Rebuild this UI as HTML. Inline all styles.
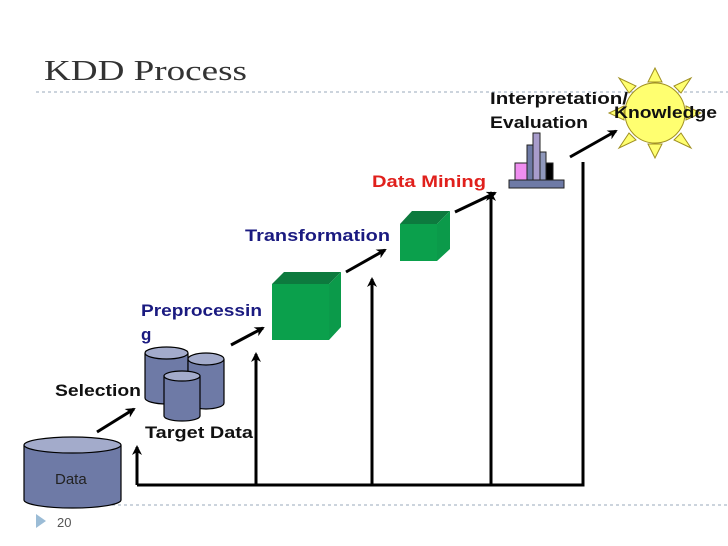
<!DOCTYPE html>
<html><head><style>body{margin:0;background:#fff}svg{display:block}</style></head><body>
<svg width="728" height="546" viewBox="0 0 728 546" xmlns="http://www.w3.org/2000/svg" font-family="Liberation Sans, sans-serif">
<defs><marker id="a" markerWidth="10" markerHeight="10" refX="8" refY="5" orient="auto" markerUnits="userSpaceOnUse"><path d="M0,0 L10,5 L0,10 L3,5z" fill="#000"/></marker></defs>
<text x="44" y="80" font-family="Liberation Serif, serif" font-size="29" fill="#333" textLength="203" lengthAdjust="spacingAndGlyphs">KDD Process</text>
<line x1="36" y1="92" x2="728" y2="92" stroke="#9ab" stroke-dasharray="3,3"/>
<line x1="100" y1="505" x2="728" y2="505" stroke="#9ab" stroke-dasharray="3,3"/>
<path d="M36,514 L46,521 L36,528z" fill="#9bbcd6"/>
<text x="57" y="527" font-size="13" fill="#555">20</text>
<g stroke="#000" stroke-width="3" fill="none">
<path d="M137,485 H583 V162"/>
<line x1="137" y1="485" x2="137" y2="447" marker-end="url(#a)"/>
<line x1="256" y1="485" x2="256" y2="354" marker-end="url(#a)"/>
<line x1="372" y1="485" x2="372" y2="279" marker-end="url(#a)"/>
<line x1="491" y1="485" x2="491" y2="193" marker-end="url(#a)"/>
<line x1="97" y1="432" x2="134" y2="409" marker-end="url(#a)"/>
<line x1="231" y1="345" x2="263" y2="328" marker-end="url(#a)"/>
<line x1="346" y1="272" x2="385" y2="250" marker-end="url(#a)"/>
<line x1="455" y1="212" x2="495" y2="193" marker-end="url(#a)"/>
<line x1="570" y1="157" x2="616" y2="131" marker-end="url(#a)"/>
</g>
<g stroke="#000" stroke-width="1.2">
<path d="M24,445 V500 A48.5,8 0 0 0 121,500 V445" fill="#6e7aa6"/>
<ellipse cx="72.5" cy="445" rx="48.5" ry="8" fill="#a3abcb"/>
<path d="M145,353 V398 A21.5,6 0 0 0 188,398 V353" fill="#6e7aa6"/>
<ellipse cx="166.5" cy="353" rx="21.5" ry="6" fill="#a3abcb"/>
<path d="M188,359 V403 A18,6 0 0 0 224,403 V359" fill="#6e7aa6"/>
<ellipse cx="206" cy="359" rx="18" ry="6" fill="#a3abcb"/>
<path d="M164,376 V416 A18,5 0 0 0 200,416 V376" fill="#6e7aa6"/>
<ellipse cx="182" cy="376" rx="18" ry="5" fill="#a3abcb"/>
</g>
<text x="55" y="484" font-size="15" fill="#222">Data</text>
<path d="M272,284 L284,272 L341,272 L329,284z" fill="#0d7a3e"/>
<path d="M329,284 L341,272 L341,327 L329,340z" fill="#0b9a4a"/>
<rect x="272" y="284" width="57" height="56" fill="#0ba04c"/>
<path d="M400,224 L412,211 L450,211 L437,224z" fill="#0d7a3e"/>
<path d="M437,224 L450,211 L450,249 L437,261z" fill="#0b9a4a"/>
<rect x="400" y="224" width="37" height="37" fill="#0ba04c"/>
<g stroke="#222" stroke-width="1">
<rect x="515" y="163" width="12" height="17" fill="#f08ef0"/>
<rect x="527" y="145" width="6" height="35" fill="#6e7aa6"/>
<rect x="533" y="133" width="7" height="47" fill="#a89ccc"/>
<rect x="540" y="152" width="6" height="28" fill="#8f98bb"/>
<rect x="546" y="163" width="7" height="17" fill="#000"/>
<rect x="509" y="180" width="55" height="8" fill="#6e7aa6"/>
</g>
<g fill="#ffff70" stroke="#a09020" stroke-width="1">
<path d="M648,82 L655,68 L662,82z"/><path d="M648,144 L655,158 L662,144z"/>
<path d="M624,106 L609,113 L624,120z"/><path d="M686,106 L701,113 L686,120z"/>
<path d="M629,93 L619,78 L636,86z"/><path d="M681,93 L691,78 L674,86z"/>
<path d="M629,133 L619,148 L636,140z"/><path d="M681,133 L691,148 L674,140z"/>
<circle cx="655" cy="113" r="30"/>
</g>
<g font-weight="bold" font-size="17">
<text x="490" y="104" fill="#111" textLength="138" lengthAdjust="spacingAndGlyphs">Interpretation/</text>
<text x="490" y="128" fill="#111" textLength="98" lengthAdjust="spacingAndGlyphs">Evaluation</text>
<text x="614" y="118" fill="#111" textLength="103" lengthAdjust="spacingAndGlyphs">Knowledge</text>
<text x="372" y="187" fill="#e0201c" textLength="114" lengthAdjust="spacingAndGlyphs">Data Mining</text>
<text x="245" y="241" fill="#1a1a80" textLength="145" lengthAdjust="spacingAndGlyphs">Transformation</text>
<text x="141" y="316" fill="#1a1a80" textLength="121" lengthAdjust="spacingAndGlyphs">Preprocessin</text>
<text x="141" y="340" fill="#1a1a80">g</text>
<text x="55" y="396" fill="#111" textLength="86" lengthAdjust="spacingAndGlyphs">Selection</text>
<text x="145" y="438" fill="#111" textLength="108" lengthAdjust="spacingAndGlyphs">Target Data</text>
</g>
</svg>
</body></html>
